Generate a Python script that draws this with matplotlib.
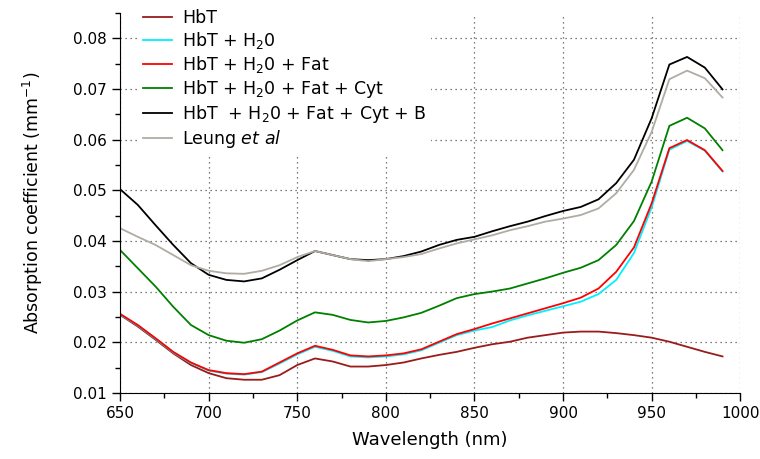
import numpy as np
import matplotlib
matplotlib.use("Agg")
import matplotlib.pyplot as plt
from matplotlib.ticker import MultipleLocator

plt.rcParams['font.family'] = ['DejaVu Sans']
plt.rcParams['mathtext.fontset'] = 'dejavusans'

wavelength = list(range(650, 1000, 10))

hbt = [0.0254, 0.0231, 0.0205, 0.0178, 0.0155, 0.0139, 0.0129, 0.0126, 0.0126, 0.0135,
       0.0155, 0.0168, 0.0162, 0.0152, 0.0152, 0.0155, 0.0160, 0.0168, 0.0175, 0.0181,
       0.0189, 0.0196, 0.0201, 0.0209, 0.0214, 0.0219, 0.0221, 0.0221, 0.0218, 0.0214,
       0.0209, 0.0201, 0.0191, 0.0181, 0.0172]

hbt_h2o = [0.0255, 0.0233, 0.0207, 0.0180, 0.0159, 0.0144, 0.0138, 0.0136, 0.0141, 0.0158,
           0.0176, 0.0191, 0.0183, 0.0172, 0.0170, 0.0172, 0.0176, 0.0184, 0.0199, 0.0214,
           0.0223, 0.0230, 0.0243, 0.0253, 0.0262, 0.0271, 0.0280, 0.0295, 0.0323, 0.0376,
           0.0466, 0.0580, 0.0597, 0.0578, 0.0537]

hbt_h2o_fat = [0.0256, 0.0234, 0.0208, 0.0181, 0.0160, 0.0145, 0.0139, 0.0137, 0.0142, 0.0160,
               0.0178, 0.0193, 0.0185, 0.0174, 0.0172, 0.0174, 0.0178, 0.0186, 0.0201, 0.0216,
               0.0226, 0.0237, 0.0247, 0.0257, 0.0267, 0.0277, 0.0288, 0.0306, 0.0339, 0.0387,
               0.0474, 0.0583, 0.0599, 0.0579, 0.0538]

hbt_h2o_fat_cyt = [0.0382, 0.0346, 0.0310, 0.0270, 0.0234, 0.0214, 0.0203, 0.0199, 0.0206, 0.0223,
                   0.0243, 0.0259, 0.0254, 0.0244, 0.0239, 0.0242, 0.0249, 0.0258, 0.0272, 0.0287,
                   0.0295, 0.0300, 0.0306, 0.0316, 0.0326, 0.0337, 0.0347, 0.0362, 0.0392, 0.0439,
                   0.0517, 0.0627, 0.0643, 0.0622, 0.0579]

hbt_all = [0.0502, 0.0471, 0.0431, 0.0392, 0.0356, 0.0333, 0.0323, 0.0320, 0.0326, 0.0343,
           0.0362, 0.0380, 0.0372, 0.0364, 0.0362, 0.0364, 0.0370, 0.0379, 0.0392, 0.0402,
           0.0408, 0.0419, 0.0429, 0.0438, 0.0449, 0.0459, 0.0467, 0.0482, 0.0514, 0.0560,
           0.0642, 0.0748, 0.0763, 0.0742, 0.0699]

leung = [0.0425, 0.0408, 0.0392, 0.0372, 0.0352, 0.0341, 0.0336, 0.0335, 0.0341, 0.0352,
         0.0368, 0.0380, 0.0372, 0.0364, 0.0360, 0.0364, 0.0368, 0.0374, 0.0385, 0.0395,
         0.0403, 0.0411, 0.0421, 0.0429, 0.0438, 0.0444, 0.0451, 0.0464, 0.0494, 0.0540,
         0.0615, 0.0719, 0.0736, 0.0721, 0.0683]

labels = ["HbT", "HbT + H$_2$0", "HbT + H$_2$0 + Fat", "HbT + H$_2$0 + Fat + Cyt",
          "HbT  + H$_2$0 + Fat + Cyt + B", "Leung $et\\ al$"]
series = [hbt, hbt_h2o, hbt_h2o_fat, hbt_h2o_fat_cyt, hbt_all, leung]
colors = ['#9B1B1B', '#00F0FF', '#FF0000', '#008000', '#000000', '#B0ACA4']

fig = plt.figure(figsize=(7.6, 4.59), dpi=100)
ax = fig.add_axes([0.158, 0.144, 0.816, 0.828])

for s, c, l in zip(series, colors, labels):
    ax.plot(wavelength, s, color=c, lw=1.3, label=l)

ax.set_xlim(650, 1000)
ax.set_ylim(0.01, 0.085)
ax.xaxis.set_major_locator(MultipleLocator(50))
ax.xaxis.set_minor_locator(MultipleLocator(25))
ax.yaxis.set_minor_locator(MultipleLocator(0.005))
ax.set_yticks([0.01, 0.02, 0.03, 0.04, 0.05, 0.06, 0.07, 0.08])
ax.set_yticklabels(['0.01', '0.02', '0.03', '0.04', '0.05', '0.06', '0.07', '0.08'])

for sp in ['top', 'right']:
    ax.spines[sp].set_visible(False)
ax.tick_params(axis='both', which='major', direction='out', length=6, width=1, labelsize=11)
ax.tick_params(axis='both', which='minor', direction='out', length=3.5, width=1)
ax.grid(True, which='major', linestyle=(0, (1, 3)), color='#555555', lw=0.9)
ax.set_axisbelow(True)

ax.set_xlabel("Wavelength (nm)", fontsize=13, labelpad=7)
ax.set_ylabel("Absorption coefficient (mm$^{-1}$)", fontsize=12.5, labelpad=20)

leg = ax.legend(loc='upper left', bbox_to_anchor=(0.032, 1.02), frameon=True, fontsize=12.5,
                handlelength=1.65, handletextpad=0.6, labelspacing=0.18,
                borderaxespad=0, borderpad=0.2)
leg.get_frame().set_edgecolor('none')
leg.get_frame().set_facecolor('white')
leg.get_frame().set_alpha(1)

fig.savefig("out.png", dpi=100)
